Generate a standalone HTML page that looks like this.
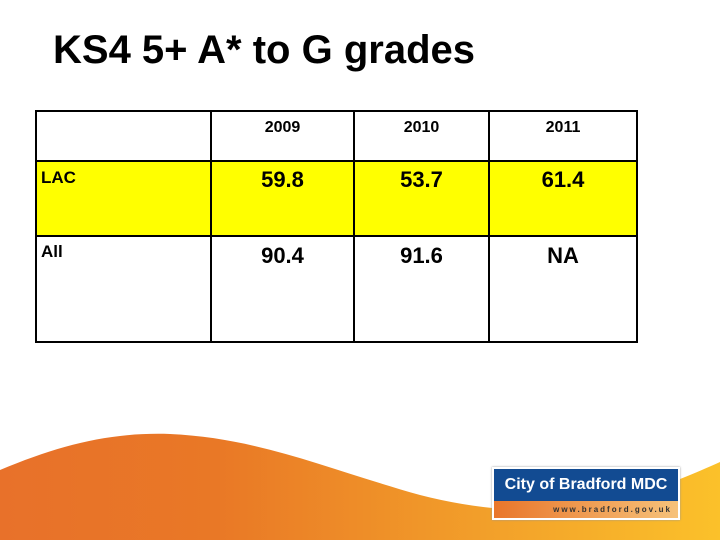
<!DOCTYPE html>
<html><head><meta charset="utf-8"><style>
body{margin:0;width:720px;height:540px;background:#fff;position:relative;overflow:hidden;font-family:"Liberation Sans",sans-serif}
.t{position:absolute;font-weight:bold;color:#000}
.ln{position:absolute;background:#000}
</style></head><body>
<svg style="position:absolute;left:0;top:0" width="720" height="540">
<defs><linearGradient id="g" x1="0" x2="1"><stop offset="0" stop-color="#e8712a"/><stop offset="0.3" stop-color="#e97826"/><stop offset="0.7" stop-color="#f3a22a"/><stop offset="1" stop-color="#fbc12a"/></linearGradient></defs>
<path d="M0,470 C60,445 110,432 170,434 C260,438 330,470 420,495 C470,508 520,512 560,510 C620,505 680,480 720,462 L720,540 L0,540 Z" fill="url(#g)"/>
</svg>
<div style="position:absolute;left:492px;top:467px;width:184px;height:49px;border:2px solid #fff;box-shadow:0 0 2px #999;">
<div style="height:32px;background:#124b92;color:#fff;font-weight:bold;font-size:16px;line-height:32px;text-align:center">City of Bradford MDC</div>
<div style="height:17px;background:linear-gradient(90deg,#e9762b,#f6c27a);color:#333;font-size:8px;letter-spacing:2px;line-height:17px;text-align:right;padding-right:6px;font-weight:bold">www.bradford.gov.uk</div>
</div>
<div class="t" style="left:53px;top:28px;font-size:40px">KS4 5+ A* to G grades</div>
<div style="position:absolute;left:36px;top:161px;width:601px;height:75px;background:#ffff00"></div>
<div class="ln" style="left:36px;top:110px;width:602px;height:2px"></div>
<div class="ln" style="left:36px;top:160px;width:602px;height:2px"></div>
<div class="ln" style="left:36px;top:235px;width:602px;height:2px"></div>
<div class="ln" style="left:36px;top:341px;width:602px;height:2px"></div>
<div class="ln" style="left:35px;top:110px;width:2px;height:233px"></div>
<div class="ln" style="left:210px;top:110px;width:2px;height:233px"></div>
<div class="ln" style="left:353px;top:110px;width:2px;height:233px"></div>
<div class="ln" style="left:488px;top:110px;width:2px;height:233px"></div>
<div class="ln" style="left:636px;top:110px;width:2px;height:233px"></div>
<div>
<div class="t" style="left:212px;width:141px;text-align:center;top:119px;font-size:16px">2009</div>
<div class="t" style="left:355px;width:133px;text-align:center;top:119px;font-size:16px">2010</div>
<div class="t" style="left:490px;width:146px;text-align:center;top:119px;font-size:16px">2011</div>
<div class="t" style="left:41px;top:168px;font-size:17px">LAC</div>
<div class="t" style="left:212px;width:141px;text-align:center;top:167px;font-size:22px">59.8</div>
<div class="t" style="left:355px;width:133px;text-align:center;top:167px;font-size:22px">53.7</div>
<div class="t" style="left:490px;width:146px;text-align:center;top:167px;font-size:22px">61.4</div>
<div class="t" style="left:41px;top:242px;font-size:17px">All</div>
<div class="t" style="left:212px;width:141px;text-align:center;top:243px;font-size:22px">90.4</div>
<div class="t" style="left:355px;width:133px;text-align:center;top:243px;font-size:22px">91.6</div>
<div class="t" style="left:490px;width:146px;text-align:center;top:243px;font-size:22px">NA</div>
</div>
</body></html>
